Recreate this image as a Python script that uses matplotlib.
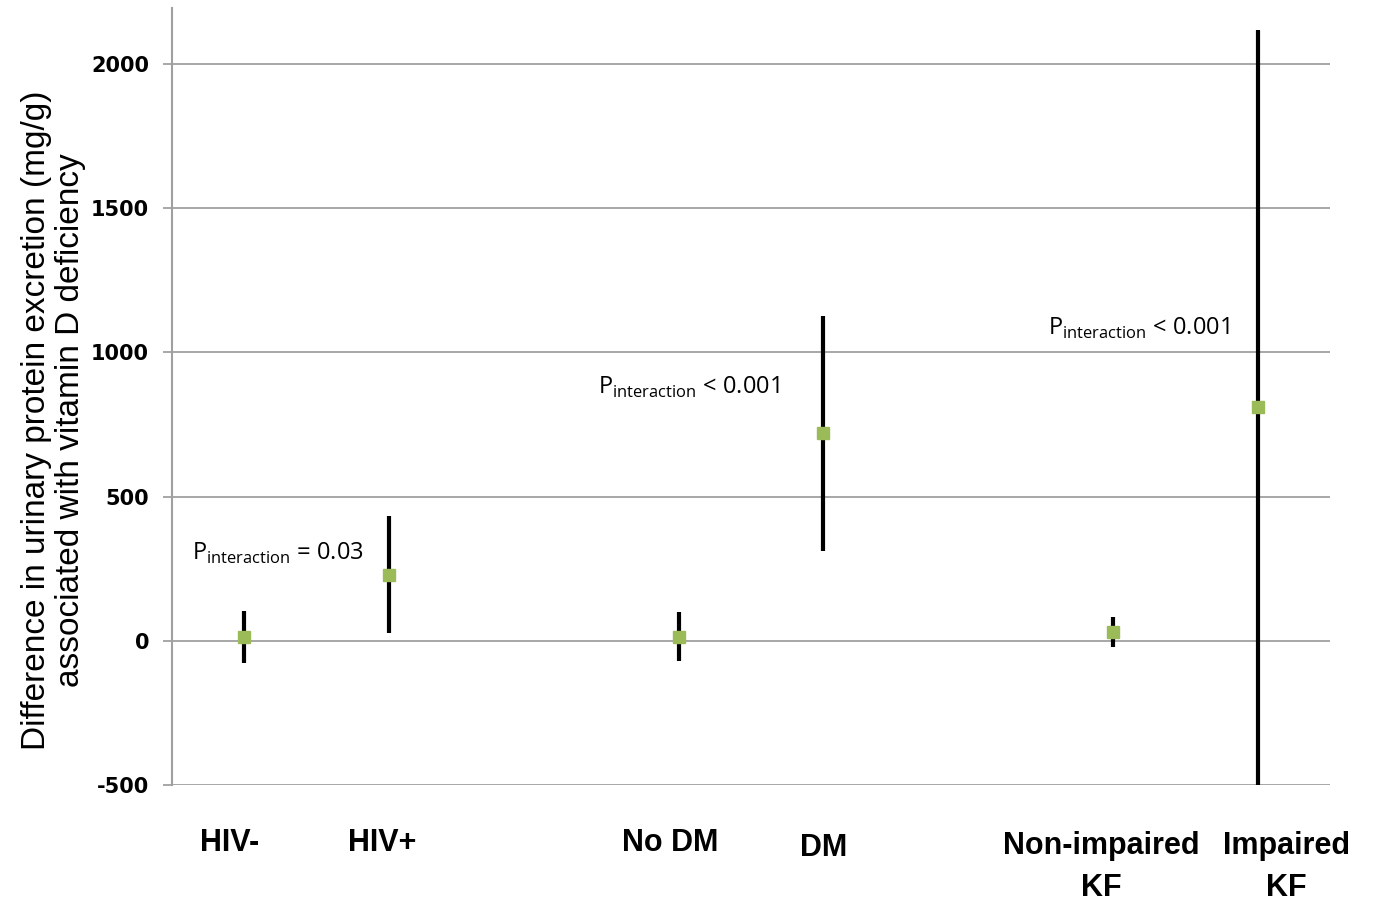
import matplotlib.pyplot as plt
from matplotlib.transforms import blended_transform_factory

# Datos
grupos = ['HIV-', 'HIV+', 'No DM', 'DM', 'Non-impaired\nKF', 'Impaired\nKF']
posiciones = [1, 2, 4, 5, 7, 8]
estimacion = [14, 229, 14, 719, 31, 812]
limite_inf = [-76, 28, -69, 312, -21, -560]
limite_sup = [104, 431, 101, 1125, 83, 2118]
yticks = [-500, 0, 500, 1000, 1500, 2000]

fig = plt.figure(figsize=(13.73, 9.08), dpi=100)
ax = fig.add_axes([172 / 1373, 123 / 908, (1330 - 172) / 1373, (785 - 8) / 908])

ax.set_xlim(0.5, 8.5)
ax.set_ylim(-500, 2194)

# Lineas de cuadricula
for y in yticks:
    ax.axhline(y, color='#a0a0a0', lw=1.3, zorder=1)

# Barras de error y puntos
for x, e, lo, hi in zip(posiciones, estimacion, limite_inf, limite_sup):
    ax.plot([x, x], [lo, hi], color='black', lw=3.0, solid_capstyle='butt', zorder=2)
ax.plot(posiciones, estimacion, 's', color='#9bbb59', markersize=9, zorder=3)

ax.set_yticks(yticks)
ax.set_yticklabels([str(v) for v in yticks], fontsize=15, fontweight='bold', family='DejaVu Sans')
ax.tick_params(axis='y', length=6.5, color='#a0a0a0', width=1.3, pad=10)
ax.set_xticks([])

for lado in ['top', 'right', 'bottom']:
    ax.spines[lado].set_visible(False)
ax.spines['left'].set_color('#a0a0a0')
ax.spines['left'].set_linewidth(1.5)

ax.set_ylabel('Difference in urinary protein excretion (mg/g)\nassociated with vitamin D deficiency',
              fontsize=24, family='Liberation Sans', linespacing=1.12)
ax.yaxis.set_label_coords(-0.074, 0.47)

# Etiquetas del eje x (alturas ligeramente distintas como en el original)
trans = blended_transform_factory(ax.transData, fig.transFigure)
alturas = [843, 843, 843, 848, 846, 846]
desplaz = [-0.1, -0.05, -0.06, 0.0, -0.08, 0.2]
for x, nombre, h, d in zip(posiciones, grupos, alturas, desplaz):
    for i, linea in enumerate(nombre.split('\n')):
        ax.text(x + d, 1 - (h + 42 * i) / 908, linea, transform=trans, ha='center', va='center',
                fontsize=22, fontweight='bold', family='Liberation Sans')

# Anotaciones de interaccion
ax.text(0.64, 282, r'P$_{\mathregular{interaction}}$ = 0.03', fontsize=17, family='Open Sans')
ax.text(3.44, 855, r'P$_{\mathregular{interaction}}$ < 0.001', fontsize=17, family='Open Sans')
ax.text(6.55, 1060, r'P$_{\mathregular{interaction}}$ < 0.001', fontsize=17, family='Open Sans')

fig.savefig('out.png', dpi=100)
plt.close(fig)
